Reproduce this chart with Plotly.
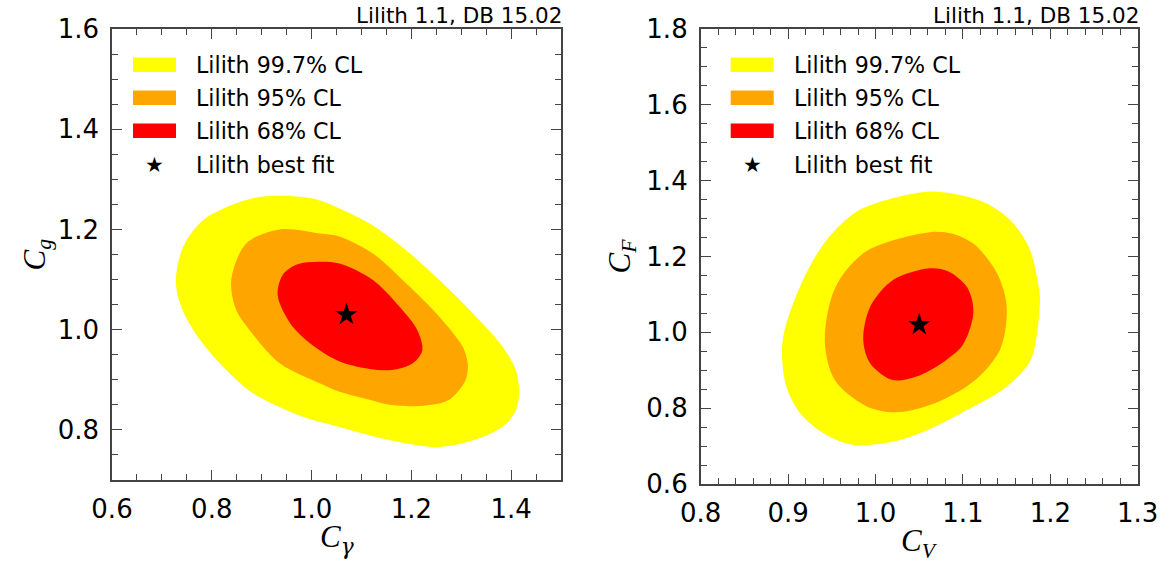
import plotly.graph_objects as go

# ---------------- data ----------------
# Left panel: C_gamma vs C_g
cg_997_x = [0.930, 1.010, 1.056, 1.123, 1.189, 1.256, 1.323, 1.383, 1.410, 1.416, 1.410, 1.390, 1.343, 1.256, 1.156, 1.056, 0.983, 0.883, 0.816, 0.763, 0.736, 0.728, 0.743, 0.783, 0.869]
cg_997_y = [1.267, 1.260, 1.242, 1.208, 1.159, 1.099, 1.033, 0.966, 0.918, 0.873, 0.840, 0.812, 0.786, 0.766, 0.780, 0.806, 0.826, 0.873, 0.933, 0.999, 1.053, 1.099, 1.166, 1.219, 1.259]
cg_95_x = [0.936, 1.016, 1.056, 1.123, 1.189, 1.256, 1.303, 1.313, 1.309, 1.276, 1.223, 1.156, 1.116, 1.056, 1.016, 0.936, 0.876, 0.849, 0.839, 0.869]
cg_95_y = [1.200, 1.192, 1.186, 1.152, 1.093, 1.026, 0.966, 0.933, 0.900, 0.860, 0.848, 0.850, 0.860, 0.876, 0.893, 0.933, 0.999, 1.039, 1.099, 1.172]
cg_68_x = [1.002, 1.056, 1.123, 1.176, 1.212, 1.222, 1.203, 1.154, 1.063, 1.002, 0.957, 0.932, 0.942, 0.968]
cg_68_y = [1.135, 1.132, 1.099, 1.046, 0.999, 0.959, 0.933, 0.919, 0.934, 0.969, 1.013, 1.069, 1.109, 1.129]
cg_best = (1.07, 1.03)

# Right panel: C_V vs C_F
cv_997_x = [1.059, 1.092, 1.126, 1.154, 1.176, 1.188, 1.188, 1.178, 1.148, 1.097, 1.059, 1.020, 0.975, 0.944, 0.914, 0.898, 0.893, 0.896, 0.917, 0.944, 0.982]
cv_997_y = [1.371, 1.364, 1.341, 1.296, 1.222, 1.099, 1.071, 0.929, 0.853, 0.786, 0.742, 0.712, 0.703, 0.729, 0.786, 0.857, 0.945, 1.006, 1.138, 1.243, 1.323]
cv_95_x = [1.062, 1.088, 1.113, 1.139, 1.150, 1.143, 1.113, 1.070, 1.023, 0.989, 0.954, 0.942, 0.954, 0.989]
cv_95_y = [1.264, 1.260, 1.232, 1.156, 1.071, 0.957, 0.872, 0.815, 0.789, 0.806, 0.872, 0.976, 1.118, 1.213]
cv_68_x = [1.062, 1.083, 1.105, 1.112, 1.100, 1.081, 1.051, 1.020, 0.994, 0.986, 0.994, 1.020]
cv_68_y = [1.169, 1.161, 1.118, 1.052, 0.967, 0.927, 0.887, 0.874, 0.918, 0.980, 1.068, 1.138]
cv_best = (1.05, 1.02)

levels = ["Lilith 99.7% CL", "Lilith 95% CL", "Lilith 68% CL"]
colors = ["#FFFF00", "#FFA500", "#FF0000"]
best_label = "Lilith best fit"
title_text = "Lilith 1.1, DB 15.02"

# ---------------- layout geometry (screen pixels) ----------------
W, H = 1169, 563
PANELS = {
    "L": (112.0, 29.0, 561.0, 480.0),
    "R": (700.7, 29.0, 1137.7, 484.0),
}

def px2paper(px, py):
    return px / W, 1 - py / H

fig = go.Figure()

def closed(a):
    return list(a) + [a[0]]

panel_data = [
    ("x", "y", [(cg_997_x, cg_997_y), (cg_95_x, cg_95_y), (cg_68_x, cg_68_y)], cg_best),
    ("x2", "y2", [(cv_997_x, cv_997_y), (cv_95_x, cv_95_y), (cv_68_x, cv_68_y)], cv_best),
]
for xa, ya, regions, best in panel_data:
    for (xs, ys), col, name in zip(regions, colors, levels):
        fig.add_trace(go.Scatter(
            x=closed(xs), y=closed(ys), mode="lines", fill="toself",
            fillcolor=col, line=dict(width=0, color=col, shape="spline", smoothing=0.9),
            xaxis=xa, yaxis=ya, showlegend=False, hoverinfo="skip"))
    fig.add_trace(go.Scatter(
        x=[best[0]], y=[best[1]], mode="markers",
        marker=dict(symbol="star", size=17, color="black", line=dict(width=0)),
        xaxis=xa, yaxis=ya, showlegend=False, hoverinfo="skip"))

AX_COL = "#444444"
tickfont = dict(family="DejaVu Sans", size=26, color="black")

def axis_common(rng, dtick, minor_dtick, domain, anchor, tick0):
    return dict(
        range=rng, domain=domain, anchor=anchor, dtick=dtick, tick0=tick0,
        tickformat=".1f", ticks="inside", ticklen=10, tickwidth=1.3, tickcolor=AX_COL,
        minor=dict(ticks="inside", ticklen=6, tickwidth=1.2, tickcolor=AX_COL, dtick=minor_dtick, tick0=tick0, showgrid=False),
        showline=True, linecolor=AX_COL, linewidth=1.6, mirror="ticks",
        showgrid=False, zeroline=False, tickfont=tickfont, fixedrange=True,
        automargin=False,
    )

def domain_of(box):
    x0, y0, x1, y1 = box
    a = px2paper(x0, y1)
    b = px2paper(x1, y0)
    return [a[0], b[0]], [a[1], b[1]]

lx, ly = domain_of(PANELS["L"])
rx, ry = domain_of(PANELS["R"])

xa1 = axis_common([0.6, 1.5], 0.2, 0.05, lx, "y", 0.6)
ya1 = axis_common([0.7, 1.6], 0.2, 0.05, ly, "x", 0.8)
xa2 = axis_common([0.8, 1.3], 0.1, 0.02, rx, "y2", 0.8)
ya2 = axis_common([0.6, 1.8], 0.2, 0.05, ry, "x2", 0.6)
for a in (xa1, xa2):
    a["ticklabelstandoff"] = 5
for a in (ya1, ya2):
    a["ticklabelstandoff"] = 6

shapes = []
annotations = []
leg_font = dict(family="DejaVu Sans", size=22.2, color="black")
title_font = dict(family="DejaVu Sans", size=21.5, color="black")
axtitle_font = dict(family="Liberation Serif", size=31, color="black")

legend_geo = {
    "L": dict(sx0=21, sx1=64, tx=82, stx=42.5),
    "R": dict(sx0=30, sx1=73, tx=91, stx=51.5),
}
row_tops = [28.5, 61.5, 94.5]   # swatch tops, offset from panel top
sw_h = 14.5
star_row = 136.0

GAM = "<span style=\"font-family:DejaVu Serif\">γ</span>"
axis_titles = {
    "L": ("<i>C</i><sub><i>" + GAM + "</i></sub>", "<i>C</i><sub><i>g</i></sub>", 36, 539),
    "R": ("<i>C</i><sub><i>V</i></sub>", "<i>C</i><sub><i>F</i></sub>", 621, 543),
}

for key in ("L", "R"):
    x0, y0, x1, y1 = PANELS[key]
    g = legend_geo[key]
    for i, (col, name) in enumerate(zip(colors, levels)):
        top = y0 + row_tops[i]
        p0 = px2paper(x0 + g["sx0"], top + sw_h)
        p1 = px2paper(x0 + g["sx1"], top)
        shapes.append(dict(type="rect", xref="paper", yref="paper",
                           x0=p0[0], y0=p0[1], x1=p1[0], y1=p1[1],
                           fillcolor=col, line=dict(width=0)))
        tp = px2paper(x0 + g["tx"], top + sw_h / 2)
        annotations.append(dict(text=name, xref="paper", yref="paper", x=tp[0], y=tp[1],
                                xanchor="left", yanchor="middle", showarrow=False, font=leg_font))
    sp = px2paper(x0 + g["stx"], y0 + star_row)
    annotations.append(dict(text="★", xref="paper", yref="paper", x=sp[0], y=sp[1],
                            xanchor="center", yanchor="middle", showarrow=False,
                            font=dict(family="DejaVu Sans", size=21, color="black")))
    tp = px2paper(x0 + g["tx"], y0 + star_row)
    annotations.append(dict(text=best_label, xref="paper", yref="paper", x=tp[0], y=tp[1],
                            xanchor="left", yanchor="middle", showarrow=False, font=leg_font))
    tp = px2paper(x1 + 3, 15)
    annotations.append(dict(text=title_text, xref="paper", yref="paper", x=tp[0], y=tp[1],
                            xanchor="right", yanchor="middle", showarrow=False, font=title_font))
    xt, yt, ytx, xty = axis_titles[key]
    p = px2paper((x0 + x1) / 2, xty)
    annotations.append(dict(text=xt, xref="paper", yref="paper", x=p[0], y=p[1],
                            xanchor="center", yanchor="middle", showarrow=False, font=axtitle_font))
    p = px2paper(ytx, (y0 + y1) / 2)
    annotations.append(dict(text=yt, xref="paper", yref="paper", x=p[0], y=p[1], textangle=-90,
                            xanchor="center", yanchor="middle", showarrow=False, font=axtitle_font))

fig.update_layout(
    width=W, height=H, margin=dict(l=0, r=0, t=0, b=0, pad=0, autoexpand=False),
    paper_bgcolor="white", plot_bgcolor="white",
    xaxis=xa1, yaxis=ya1, xaxis2=xa2, yaxis2=ya2,
    shapes=shapes, annotations=annotations, showlegend=False,
)

# remove the default 8px page margin so the figure fills the window exactly
fig.write_html("out.html", config={"displayModeBar": False},
               post_script="document.body.style.margin='0px';document.body.style.overflow='hidden';")
